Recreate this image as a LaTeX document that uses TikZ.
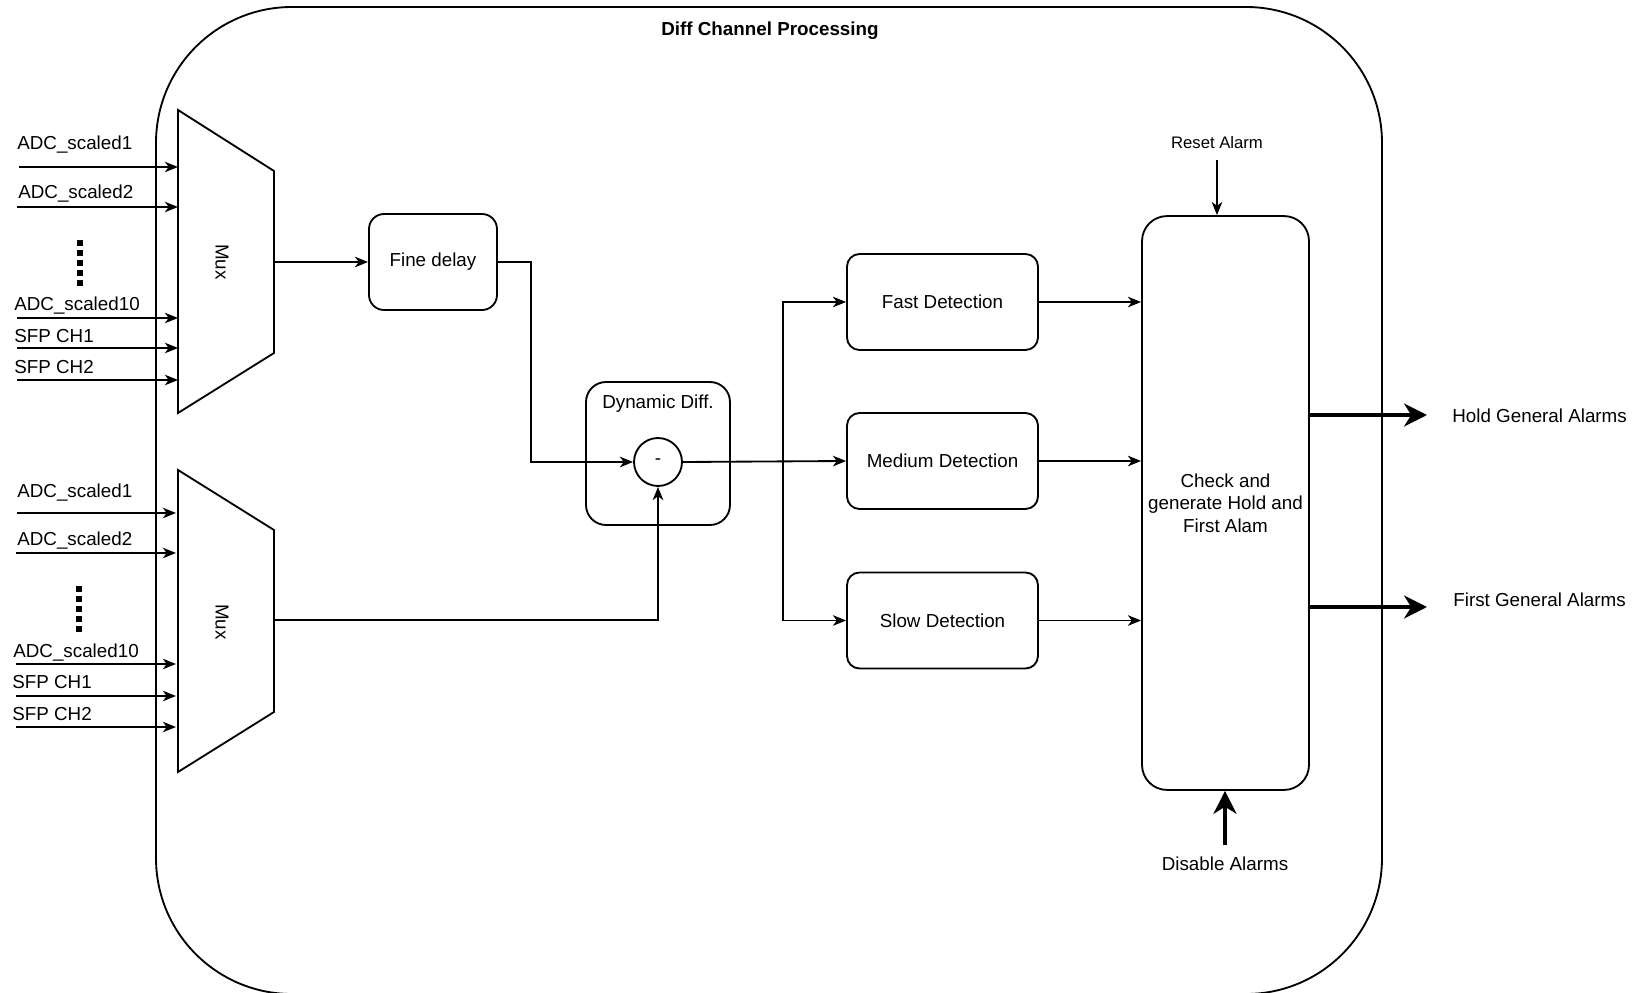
\documentclass[tikz,border=0pt]{standalone}
\usepackage{fontspec}
\setmainfont{Liberation Sans}
\usetikzlibrary{arrows.meta,calc}
\begin{document}
\begin{tikzpicture}[x=0.02cm,y=-0.02cm,
  every node/.style={font=\fontsize{10.7pt}{12.8pt}\selectfont},
  ln/.style={line width=1.05pt},
  blk/.style={draw, ln, align=center, inner sep=0pt},
  arr/.style={ln, -{Stealth[length=7.5pt,width=6pt,inset=2.2pt]}},
  bigarr/.style={line width=2.4pt, -{Stealth[length=13pt,width=13pt,inset=4pt]}},
  inlbl/.style={anchor=base west, inner sep=0pt},
  dotsq/.style={fill=black}]
\useasboundingbox (0,0) rectangle (1644,993);

% outer processing block
\draw[ln, rounded corners=2.72cm] (156,7) rectangle (1382,994);
\node[font=\fontsize{10.7pt}{12.8pt}\selectfont\bfseries] (title) at (770,31) {Diff Channel Processing};

% upper multiplexer
\coordinate (m1a) at (178,110);
\coordinate (m1b) at (274,171);
\coordinate (m1c) at (274,353);
\coordinate (m1d) at (178,413);
\draw[ln] (m1a) -- (m1b) -- (m1c) -- (m1d) -- cycle;
\node[rotate=-90] (mux1) at (222,262) {Mux};
\coordinate (m1o) at (274,262);

% lower multiplexer
\coordinate (m2a) at (178,470);
\coordinate (m2b) at (274,530);
\coordinate (m2c) at (274,712);
\coordinate (m2d) at (178,772);
\draw[ln] (m2a) -- (m2b) -- (m2c) -- (m2d) -- cycle;
\node[rotate=-90] (mux2) at (222,622) {Mux};
\coordinate (m2o) at (274,620);

% inputs of the upper multiplexer
\foreach \n/\y/\by/\lx/\sx/\t in {
  a1/167/150/17/19/ADC\_scaled1,
  a2/207/199/18/17/ADC\_scaled2,
  a3/318/311/14/17/ADC\_scaled10,
  a4/348/343/14/17/SFP CH1,
  a5/380/374/14/17/SFP CH2}{
  \node[inlbl] (l\n) at (\lx,\by) {\t};
  \coordinate (s\n) at (\sx,\y);
  \draw[arr] (s\n) -- (s\n -| m1a);
}
% inputs of the lower multiplexer
\foreach \n/\y/\by/\lx/\sx/\t in {
  b1/513/497/17/17/ADC\_scaled1,
  b2/553/545/17/16/ADC\_scaled2,
  b3/664/657/13/16/ADC\_scaled10,
  b4/696/688/12/16/SFP CH1,
  b5/727/720/12/16/SFP CH2}{
  \node[inlbl] (l\n) at (\lx,\by) {\t};
  \coordinate (s\n) at (\sx,\y);
  \draw[arr] (s\n) -- ([xshift=-0.04cm]s\n -| m2a);
}
% vertical ellipsis between the inputs
\foreach \y in {243,253,263,273,283}{\fill[dotsq] (77,\y-3) rectangle (83,\y+3);}
\foreach \y in {589,599,609,619,629}{\fill[dotsq] (76,\y-3) rectangle (82,\y+3);}

% fine delay
\node[blk, rounded corners=0.3cm, minimum width=2.56cm, minimum height=1.92cm] (fine) at (433,262) {Fine delay};
\draw[arr] (m1o) -- (fine.west);

% dynamic difference
\node[blk, rounded corners=0.4cm, minimum width=2.88cm, minimum height=2.86cm] (dyn) at (658,453.5) {};
\node (dynlbl) at (658,404) {Dynamic Diff.};
\node[draw, ln, circle, minimum size=0.96cm, inner sep=0pt] (sub) at (658,462) {-};
\draw[arr] (fine.east) -- ++(33,0) |- (sub.west);
\draw[arr] (m2o) -| (sub.south);

% detectors
\node[blk, rounded corners=0.25cm, minimum width=3.82cm, minimum height=1.92cm] (fast) at (942.5,302) {Fast Detection};
\node[blk, rounded corners=0.25cm, minimum width=3.82cm, minimum height=1.92cm] (med) at (942.5,461) {Medium Detection};
\node[blk, rounded corners=0.25cm, minimum width=3.82cm, minimum height=1.92cm] (slow) at (942.5,620.5) {Slow Detection};
\coordinate (br) at (783,461);
\draw[arr] (sub.east) -- (med.west);
\draw[arr] (br) |- (fast.west);
\draw[arr] (br) |- (slow.west);

% alarm checker
\node[blk, rounded corners=0.5cm, minimum width=3.34cm, minimum height=11.48cm] (chk) at (1225.5,503) {Check and\\generate Hold and\\First Alam};
\draw[arr] (fast.east) -- (fast.east -| chk.west);
\draw[arr] (med.east) -- (med.east -| chk.west);
\draw[arr] (slow.east) -- (slow.east -| chk.west);

\node[font=\fontsize{9.5pt}{11pt}\selectfont] (reset) at (1217,143) {Reset Alarm};
\coordinate (rs) at (1217,160);
\draw[arr] (rs) -- (rs |- chk.north);

\coordinate (hold) at (1427,415);
\draw[bigarr] (chk.east |- hold) -- (hold);
\node[anchor=west, inner sep=0pt] (holdl) at (1452,416) {Hold General Alarms};

\coordinate (first) at (1427,607);
\draw[bigarr] (chk.east |- first) -- (first);
\node[anchor=west, inner sep=0pt] (firstl) at (1453,600) {First General Alarms};

\coordinate (dis) at (1225,845);
\draw[bigarr] (dis) -- (dis |- chk.south);
\node (disl) at (1225,864) {Disable Alarms};
\end{tikzpicture}
\end{document}
